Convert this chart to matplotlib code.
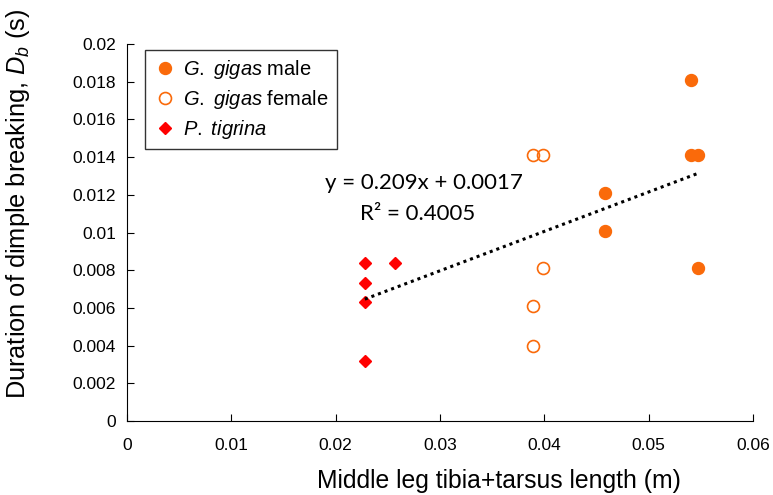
import matplotlib
matplotlib.use("Agg")
import matplotlib.pyplot as plt

plt.rcParams["font.family"] = ["Liberation Sans", "DejaVu Sans"]
plt.rcParams["mathtext.fontset"] = "custom"
plt.rcParams["mathtext.rm"] = "Liberation Sans"
plt.rcParams["mathtext.it"] = "Liberation Sans:italic"

# data
male_x = [0.0541, 0.0541, 0.0547, 0.0458, 0.0458, 0.0547]
male_y = [0.0181, 0.0141, 0.0141, 0.0121, 0.0101, 0.0081]
female_x = [0.0389, 0.0399, 0.0399, 0.0389, 0.0389]
female_y = [0.0141, 0.0141, 0.0081, 0.0061, 0.0040]
tigrina_x = [0.0228, 0.0228, 0.0228, 0.0228, 0.0257]
tigrina_y = [0.0084, 0.0073, 0.0063, 0.0032, 0.0084]

slope = 0.209
intercept = 0.0017
fit_x = [0.0228, 0.0547]

x_ticks = [0, 0.01, 0.02, 0.03, 0.04, 0.05, 0.06]
x_labels = ["0", "0.01", "0.02", "0.03", "0.04", "0.05", "0.06"]
y_ticks = [0, 0.002, 0.004, 0.006, 0.008, 0.01, 0.012, 0.014, 0.016, 0.018, 0.02]
y_labels = ["0", "0.002", "0.004", "0.006", "0.008", "0.01", "0.012",
            "0.014", "0.016", "0.018", "0.02"]

orange = "#FA6A0A"

fig = plt.figure(figsize=(7.73, 4.95), dpi=100)
ax = fig.add_axes([0.1643, 0.1495, 0.974 - 0.1643, 0.911 - 0.1495])

ax.plot(male_x, male_y, "o", ms=8.6, color=orange, mec=orange,
        label=r"$\mathit{G.}$ $\mathit{gigas}$ male")
ax.plot(female_x, female_y, "o", ms=8.6, mfc="none", mec=orange, mew=1.2,
        label=r"$\mathit{G.}$ $\mathit{gigas}$ female")
ax.plot(tigrina_x, tigrina_y, "D", ms=6.2, color="#FF0000",
        label=r"$\mathit{P.}$ $\mathit{tigrina}$")

fit_y = [slope * v + intercept for v in fit_x]
ax.plot(fit_x, fit_y, color="black", lw=2.2, ls=(0, (1, 1.3)))

ax.text(0.01895, 0.01265, "y = 0.209x + 0.0017", fontsize=16, va="center",
        family="Lato")
ax.text(0.0223, 0.01098, "R² = 0.4005", fontsize=16, va="center",
        family="Lato")

ax.set_xlim(0, 0.06)
ax.set_ylim(0, 0.02)
ax.set_xticks(x_ticks)
ax.set_xticklabels(x_labels)
ax.set_yticks(y_ticks)
ax.set_yticklabels(y_labels)
ax.tick_params(direction="in", labelsize=12.5, length=5, width=0.8, pad=12)
ax.tick_params(axis="y", pad=8)
for s in ["top", "right"]:
    ax.spines[s].set_visible(False)
for s in ["left", "bottom"]:
    ax.spines[s].set_linewidth(0.8)

ax.set_xlabel("Middle leg tibia+tarsus length (m)", fontsize=17.8)
ax.set_ylabel(r"Duration of dimple breaking, $D_b$ (s)", fontsize=18.3)
ax.xaxis.set_label_coords(0.594, -0.128)
ax.yaxis.set_label_coords(-0.152, 0.576)

leg = ax.legend(loc="upper left", bbox_to_anchor=(0.029, 0.984), fontsize=14.5,
                frameon=True, fancybox=False, edgecolor="black",
                borderaxespad=0, borderpad=0.4, handletextpad=0.3,
                labelspacing=0.35, handlelength=1.2)
leg.get_frame().set_linewidth(1.0)

fig.savefig("out.png", dpi=100)
